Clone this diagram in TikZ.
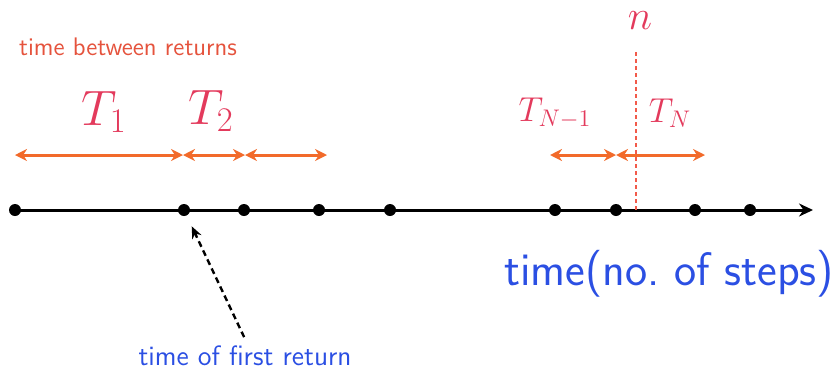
\documentclass[tikz,border=0pt]{standalone}
\usepackage{amsmath,amssymb}
\usetikzlibrary{arrows.meta,positioning}
\definecolor{gaporange}{HTML}{F26A2A}
\definecolor{labelred}{HTML}{E33A5C}
\definecolor{noteorange}{HTML}{E5533D}
\definecolor{cutred}{HTML}{F25A4A}
\definecolor{noteblue}{HTML}{2B4FE3}

\begin{document}
\begin{tikzpicture}[x=0.5pt,y=-0.5pt,
    dot/.style={circle,fill=black,inner sep=0pt,minimum size=6pt},
    gap/.style={{Stealth[length=6pt,width=6pt]}-{Stealth[length=6pt,width=6pt]},gaporange,line width=1.5pt},
    biglab/.style={labelred,font=\fontsize{24}{28}\selectfont},
    smalllab/.style={labelred,font=\fontsize{18}{21}\selectfont},
    note/.style={font=\sffamily\fontsize{12.7}{15}\selectfont}]
        \useasboundingbox (0,0) rectangle (838,381);
        % time axis with return times
        \foreach \x [count=\i] in {15,184,244,319,390,555,616,695,750}{\node[dot] (d\i) at (\x,210) {};}
        \coordinate (tend) at (813,210);
        \draw[line width=1.5pt,-{Stealth[length=7pt,width=6.5pt]}] (d1.center)--(tend);
        % gaps between returns
        \coordinate (a0) at (15,155);
        \coordinate (a1) at (183,155);
        \coordinate (a2) at (245,155);
        \coordinate (a3) at (327,155);
        \coordinate (b0) at (550,155);
        \coordinate (b1) at (616,155);
        \coordinate (b2) at (705,155);
        \draw[gap] (a0)--(a1);
        \draw[gap] (a1)--(a2);
        \draw[gap] (a2)--(a3);
        \draw[gap] (b0)--(b1);
        \draw[gap] (b1)--(b2);
        \node[biglab] (t1) at (104,112) {$T_1$};
        \node[biglab] (t2) at (211,111) {$T_2$};
        \node[smalllab] (tn1) at (555,113) {$T_{N-1}$};
        \node[smalllab] (tn) at (670,113) {$T_N$};
        % present time n
        \coordinate (cut) at (636,52);
        \node[labelred,inner sep=0pt,font=\fontsize{20}{24}\selectfont] (nlab) at (640,21) {$n$};
        \draw[cutred,line width=1.1pt,dash pattern=on 2pt off 1.5pt] (cut)--(cut |- d1);
        % notes
        \node[note,noteorange] (between) at (128,47) {time between returns};
        \node[note,noteblue,font=\sffamily\fontsize{23.5}{28}\selectfont] (steps) at (669,274) {time(no.\ of steps)};
        \node[note,noteblue,font=\sffamily\fontsize{14}{17}\selectfont] (firstret) at (245,356) {time of first return};
        \draw[line width=1.2pt,dash pattern=on 3pt off 2pt,-{Stealth[length=6pt,width=5pt]},shorten <=1pt,shorten >=9pt] (firstret.north)--(d2.center);
      \end{tikzpicture}
\end{document}
